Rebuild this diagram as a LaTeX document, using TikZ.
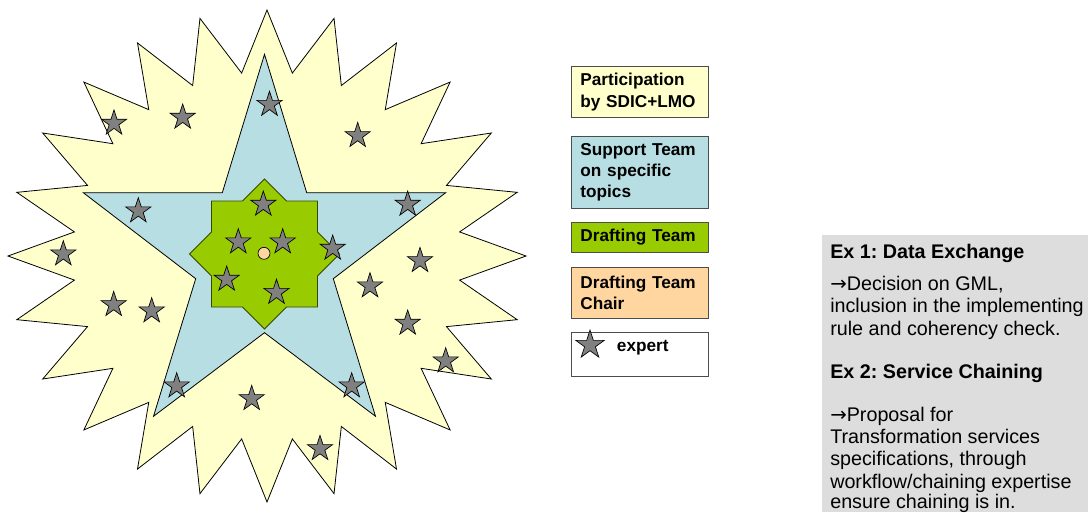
\documentclass[tikz,border=0pt]{standalone}
\usepackage{fontspec}
\setmainfont{Liberation Sans}
\newfontfamily\arrowfont{DejaVu Sans}
\newcommand{\toarrow}{{\arrowfont →}}
\frenchspacing
\usetikzlibrary{positioning,shapes.geometric}
\definecolor{burstyellow}{RGB}{255,255,204}
\definecolor{teamblue}{RGB}{183,222,227}
\definecolor{draftgreen}{RGB}{153,204,0}
\definecolor{chairpeach}{RGB}{255,214,160}
\definecolor{expertgray}{RGB}{128,128,128}
\definecolor{panelgray}{RGB}{221,221,221}
\tikzset{%
	area/.style    = {draw=black, line width=0.6pt},
	expert/.style  = {star, star points=5, star point ratio=2.618, draw=black, line width=0.5pt, fill=expertgray, inner sep=0pt, minimum size=20pt}, % expert
	legbox/.style  = {draw=black!70, line width=0.6pt, anchor=north west, text width=89pt, inner xsep=7pt, inner ysep=0pt, align=left, font=\bfseries\fontsize{12.9}{16}\selectfont},
	exline/.style  = {anchor=base west, inner sep=0pt, font=\fontsize{14.8}{16.5}\selectfont},
	exhead/.style  = {exline, font=\bfseries\fontsize{14.8}{16.5}\selectfont},
}

\begin{document}
\begin{tikzpicture}[x=0.75pt,y=-0.75pt]
	\useasboundingbox (0,0) rectangle (1088,512);
	
	% participation burst
	\draw[area, fill=burstyellow] (267,10)
		\foreach \i in {1,...,47} { -- ({267+259*(1-0.25*mod(\i,2))*cos(90+7.5*\i)}, {256-246*(1-0.25*mod(\i,2))*sin(90+7.5*\i)}) } -- cycle;
	% support team star
	\draw[area, fill=teamblue] (264.5,54.3) -- (306.7,192.7) -- (445.7,192.7) -- (333.3,278.7) -- (375.5,416.3) -- (264.5,332.7)
		-- (153.5,416.3) -- (195.7,278.7) -- (83.3,192.7) -- (222.3,192.7) -- cycle;
	% drafting team
	\draw[area, draw=black!65!draftgreen, fill=draftgreen] (264.5,179) -- (286.5,201) -- (317.5,201) -- (317.5,232) -- (339.5,254) -- (317.5,276) -- (317.5,307)
		-- (286.5,307) -- (264.5,329) -- (242.5,307) -- (211.5,307) -- (211.5,276) -- (189.5,254) -- (211.5,232) -- (211.5,201) -- (242.5,201) -- cycle;
	\node[circle, draw=black, line width=0.5pt, fill=chairpeach, minimum size=9pt, inner sep=0pt] (chair) at (264,253.3) {};
	
	% experts
	\foreach \p [count=\n] in {(114,123.3),(182.7,117.3),(269.5,104.5),(138.3,211),(263.3,204.3),(238.3,242),(63.3,254),
		(357.7,135.7),(407.7,204.3),(282.7,242),(332.7,248.3),(420,260.7),(113.7,304.7),(151.7,311),(226.7,279.3),
		(276.5,292.5),(176.7,386),(251.7,398.7),(370,286),(407.7,323.3),(445.7,361),(351.7,386),(320,448.7)}
		\node[expert] (e\n) at \p {};
	
	% legend
	\node[legbox, fill=burstyellow, minimum height=38.5pt] (lp) at (570.7,66) {Participation\\by SDIC+LMO};
	\node[legbox, fill=teamblue, minimum height=53.8pt, below=13.3pt of lp] (ls) {Support Team\\on specific\\topics};
	\node[legbox, fill=draftgreen, minimum height=22.5pt, below=10pt of ls] (ld) {Drafting Team};
	\node[legbox, fill=chairpeach, minimum height=38.8pt, below=10.5pt of ld] (lc) {Drafting Team\\Chair};
	\node[legbox, fill=white, minimum height=33pt, below=9.5pt of lc] (le) {};
	\node[expert, minimum size=22.4pt] (lx) at (590,345) {};
	\node[anchor=base west, inner sep=0pt, font=\bfseries\fontsize{12.9}{16}\selectfont] (lt) at (616.7,351.7) {expert};
	
	% examples
	\node[fill=panelgray, anchor=north west, minimum width=199.7pt, minimum height=207.8pt, inner sep=0pt] (panel) at (821.7,235) {};
	\node[exhead] (h1) at (830,258.3) {Ex 1: Data Exchange};
	\node[exline] (t1) at (830,290) {\toarrow Decision on GML,};
	\node[exline] (t2) at (830,312.3) {inclusion in the implementing};
	\node[exline] (t3) at (830,335) {rule and coherency check.};
	\node[exhead] (h2) at (830,378.3) {Ex 2: Service Chaining};
	\node[exline] (t4) at (830,421.7) {\toarrow Proposal for};
	\node[exline] (t5) at (830,443.3) {Transformation services};
	\node[exline] (t6) at (830,465.7) {specifications, through};
	\node[exline] (t7) at (830,488.3) {workflow/chaining expertise};
	\node[exline] (t8) at (830,508) {ensure chaining is in.};
\end{tikzpicture}
\end{document}
